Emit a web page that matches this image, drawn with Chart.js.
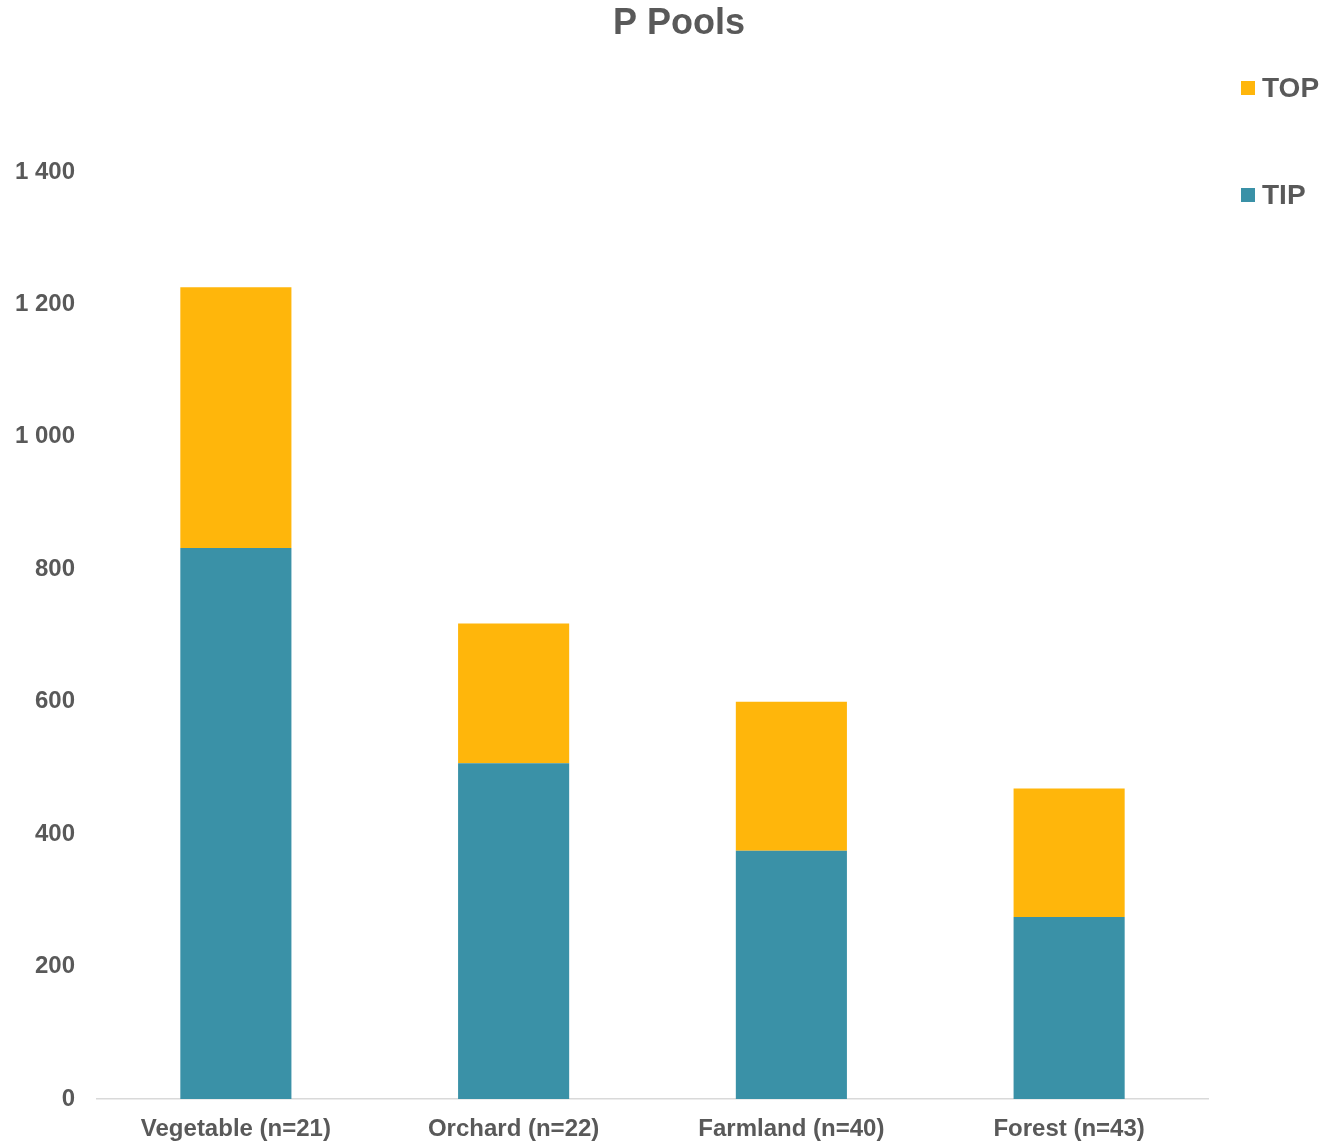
<!DOCTYPE html>
<html>
<head>
<meta charset="utf-8">
<title>P Pools</title>
<script src="https://cdn.jsdelivr.net/npm/chart.js@4"></script>
<style>
  html, body { margin: 0; padding: 0; background: #fff; }
  #wrap { width: 1334px; height: 1142px; position: relative; }
</style>
</head>
<body>
<div id="wrap"><canvas id="poolChart"></canvas></div>
<script>
const categories = ["Vegetable (n=21)", "Orchard (n=22)", "Farmland (n=40)", "Forest (n=43)"];
const tipValues = [832, 507, 375, 275];
const topValues = [394, 211, 225, 194];
const yTicks = [0, 200, 400, 600, 800, 1000, 1200, 1400];

const textGray = "#595959";
const tipColor = "#3A91A7";
const topColor = "#FFB60B";

// space as thousands separator, e.g. 1 400
function fmt(v) {
  return String(v).replace(/\B(?=(\d{3})+(?!\d))/g, " ");
}

// title and right-hand legend drawn at fixed spots on the canvas
const headerLegend = {
  id: "headerLegend",
  afterDraw(chart) {
    const ctx = chart.ctx;
    ctx.save();
    ctx.fillStyle = textGray;
    ctx.textAlign = "center";
    ctx.textBaseline = "middle";
    ctx.font = "bold 36px 'Liberation Sans', Arial, sans-serif";
    ctx.fillText("P Pools", 679, 24);

    const items = [
      { label: chart.data.datasets[1].label, color: chart.data.datasets[1].backgroundColor, y: 88 },
      { label: chart.data.datasets[0].label, color: chart.data.datasets[0].backgroundColor, y: 195 }
    ];
    ctx.font = "bold 28px 'Liberation Sans', Arial, sans-serif";
    ctx.textAlign = "left";
    items.forEach(it => {
      ctx.fillStyle = it.color;
      ctx.fillRect(1241, it.y - 7, 14, 14);
      ctx.fillStyle = textGray;
      ctx.fillText(it.label, 1262, it.y + 1);
    });
    ctx.restore();
  }
};

Chart.defaults.font.family = "'Liberation Sans', Arial, sans-serif";
Chart.defaults.color = textGray;

new Chart(document.getElementById("poolChart"), {
  type: "bar",
  data: {
    labels: categories,
    datasets: [
      { label: "TIP", data: tipValues, backgroundColor: tipColor },
      { label: "TOP", data: topValues, backgroundColor: topColor }
    ]
  },
  options: {
    responsive: true,
    maintainAspectRatio: false,
    animation: false,
    layout: { padding: { left: 0, right: 126, top: 172, bottom: 0 } },
    datasets: {
      bar: { barPercentage: 0.4, categoryPercentage: 1 }
    },
    scales: {
      x: {
        stacked: true,
        grid: { display: false, drawTicks: false, tickLength: 0 },
        border: { display: true, color: "#D9D9D9", width: 1.5 },
        ticks: { font: { size: 24, weight: "bold" }, color: textGray, padding: 16, maxRotation: 0 },
        afterFit: s => { s.height = 43; }
      },
      y: {
        stacked: true,
        min: 0,
        max: 1400,
        afterBuildTicks: s => { s.ticks = yTicks.map(v => ({ value: v })); },
        grid: { display: false, drawTicks: false, tickLength: 0 },
        border: { display: false },
        ticks: {
          font: { size: 24, weight: "bold" },
          color: textGray,
          padding: 22,
          callback: v => fmt(v)
        },
        afterFit: s => { s.width = 97; }
      }
    },
    plugins: {
      legend: { display: false },
      title: { display: false },
      tooltip: { enabled: false }
    }
  },
  plugins: [headerLegend]
});
</script>
</body>
</html>
